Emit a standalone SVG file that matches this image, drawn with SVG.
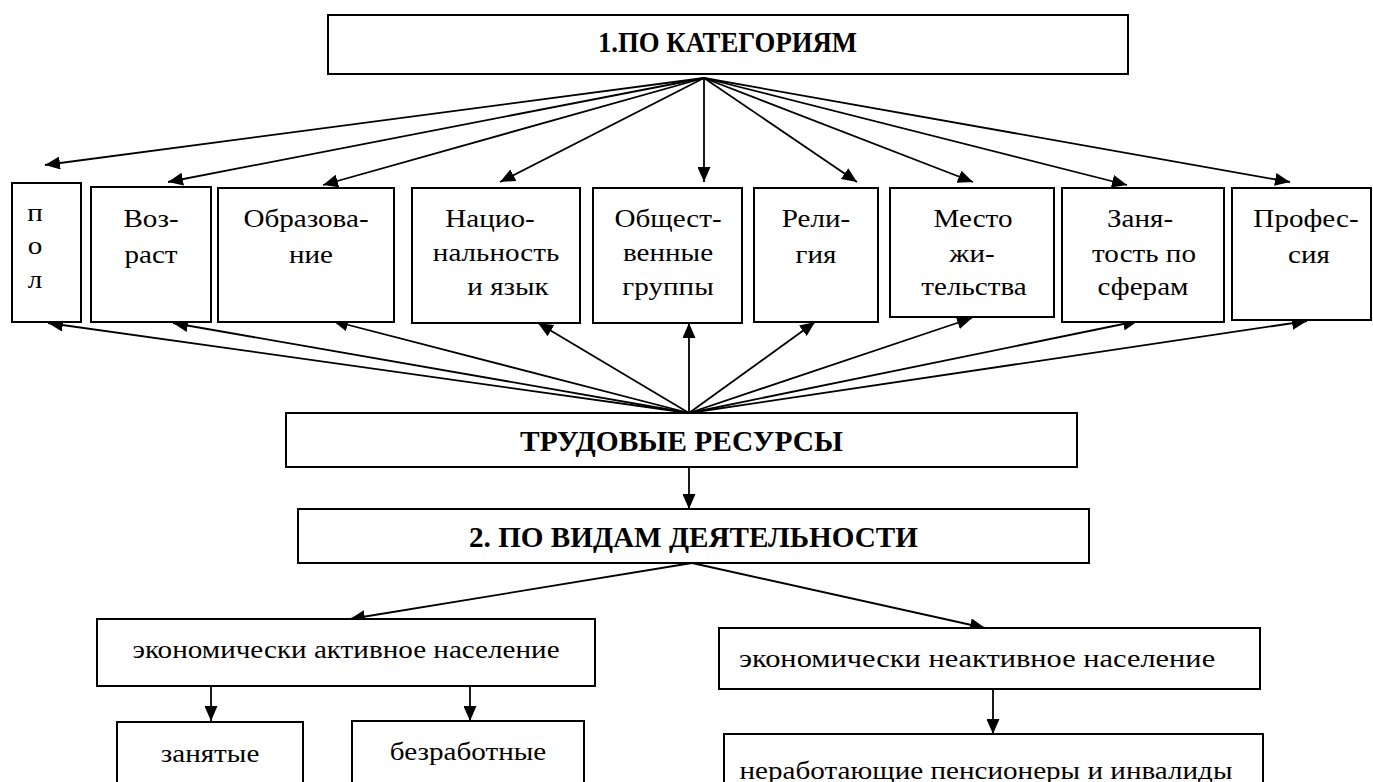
<svg xmlns="http://www.w3.org/2000/svg" width="1373" height="782" viewBox="0 0 1373 782">
<defs>
<marker id="ah" markerUnits="userSpaceOnUse" markerWidth="15" markerHeight="13" refX="15" refY="6.5" orient="auto">
<path d="M0,0 L15,6.5 L0,13 z" fill="#000"/>
</marker>
<style>
.box{fill:#fff;stroke:#000;stroke-width:2}
.t{font-family:"Liberation Serif","Times New Roman","DejaVu Serif",serif;font-size:26px;fill:#000;text-anchor:middle}
.b{font-family:"Liberation Serif","Times New Roman","DejaVu Serif",serif;font-size:29px;font-weight:bold;fill:#000;text-anchor:middle}
.c line{stroke:#000;stroke-width:1.8;marker-end:url(#ah)}
</style>
</defs>
<rect width="1373" height="782" fill="#fff"/>

<g id="connectors" class="c">
<line x1="704" y1="78" x2="45" y2="165"/>
<line x1="704" y1="78" x2="168" y2="182"/>
<line x1="704" y1="78" x2="323" y2="185"/>
<line x1="704" y1="78" x2="500" y2="182"/>
<line x1="704" y1="78" x2="704" y2="182"/>
<line x1="704" y1="78" x2="857" y2="182"/>
<line x1="704" y1="78" x2="973" y2="182"/>
<line x1="704" y1="78" x2="1127" y2="185"/>
<line x1="704" y1="78" x2="1290" y2="182"/>
<line x1="689" y1="413" x2="48" y2="323"/>
<line x1="689" y1="413" x2="173" y2="323"/>
<line x1="689" y1="413" x2="333" y2="321"/>
<line x1="689" y1="413" x2="538" y2="323"/>
<line x1="689" y1="413" x2="689" y2="323"/>
<line x1="689" y1="413" x2="815" y2="322"/>
<line x1="689" y1="413" x2="972" y2="318"/>
<line x1="689" y1="413" x2="1138" y2="321"/>
<line x1="689" y1="413" x2="1307" y2="321"/>
<line x1="689" y1="467" x2="689" y2="509"/>
<line x1="692" y1="563" x2="350" y2="619"/>
<line x1="692" y1="563" x2="985" y2="628"/>
<line x1="211" y1="687" x2="211" y2="721"/>
<line x1="470" y1="687" x2="470" y2="721"/>
<line x1="993" y1="690" x2="993" y2="734"/>
</g>

<g id="n-categories">
<rect class="box" x="328" y="15" width="800" height="59"/>
<text class="b" x="727.5" y="52" font-size="28" textLength="259" lengthAdjust="spacingAndGlyphs">1.ПО КАТЕГОРИЯМ</text>
</g>

<g id="n-pol">
<rect class="box" x="12" y="183" width="69" height="139"/>
<text class="t" transform="translate(35,221) scale(1.12,1)">п</text>
<text class="t" transform="translate(35,254) scale(1.12,1)">о</text>
<text class="t" transform="translate(35,288) scale(1.12,1)">л</text>
</g>

<g id="n-vozrast">
<rect class="box" x="91" y="187" width="120" height="135"/>
<text class="t" transform="translate(151,227) scale(1.12,1)">Воз-</text>
<text class="t" transform="translate(151,263) scale(1.12,1)">раст</text>
</g>

<g id="n-obrazovanie">
<rect class="box" x="218" y="188" width="176" height="134"/>
<text class="t" transform="translate(306,227) scale(1.12,1)">Образова-</text>
<text class="t" transform="translate(311,263) scale(1.12,1)">ние</text>
</g>

<g id="n-nacionalnost">
<rect class="box" x="412" y="188" width="168" height="135"/>
<text class="t" transform="translate(490,227) scale(1.12,1)">Нацио-</text>
<text class="t" transform="translate(496,261) scale(1.12,1)">нальность</text>
<text class="t" transform="translate(508,295) scale(1.12,1)">и язык</text>
</g>

<g id="n-obshchestvennye">
<rect class="box" x="593" y="188" width="149" height="135"/>
<text class="t" transform="translate(668,227) scale(1.12,1)">Общест-</text>
<text class="t" transform="translate(668,261) scale(1.12,1)">венные</text>
<text class="t" transform="translate(668,295) scale(1.12,1)">группы</text>
</g>

<g id="n-religiya">
<rect class="box" x="754" y="188" width="124" height="134"/>
<text class="t" transform="translate(816,227) scale(1.12,1)">Рели-</text>
<text class="t" transform="translate(816,263) scale(1.12,1)">гия</text>
</g>

<g id="n-mesto">
<rect class="box" x="890" y="188" width="164" height="129"/>
<text class="t" transform="translate(973,227) scale(1.12,1)">Место</text>
<text class="t" transform="translate(972,262) scale(1.12,1)">жи-</text>
<text class="t" transform="translate(974,295) scale(1.12,1)">тельства</text>
</g>

<g id="n-zanyatost">
<rect class="box" x="1062" y="188" width="162" height="134"/>
<text class="t" transform="translate(1140,227) scale(1.12,1)">Заня-</text>
<text class="t" transform="translate(1144,262) scale(1.12,1)">тость по</text>
<text class="t" transform="translate(1143,295) scale(1.12,1)">сферам</text>
</g>

<g id="n-professiya">
<rect class="box" x="1232" y="188" width="139" height="132"/>
<text class="t" transform="translate(1306,227) scale(1.12,1)">Профес-</text>
<text class="t" transform="translate(1309,263) scale(1.12,1)">сия</text>
</g>

<g id="n-trudovye">
<rect class="box" x="286" y="413" width="791" height="54"/>
<text class="b" x="681.5" y="451" textLength="323" lengthAdjust="spacingAndGlyphs">ТРУДОВЫЕ РЕСУРСЫ</text>
</g>

<g id="n-vidy">
<rect class="box" x="298" y="509" width="791" height="54"/>
<text class="b" x="693.5" y="547" textLength="449" lengthAdjust="spacingAndGlyphs">2. ПО ВИДАМ ДЕЯТЕЛЬНОСТИ</text>
</g>

<g id="n-aktivnoe">
<rect class="box" x="97" y="619" width="498" height="67"/>
<text class="t" transform="translate(346,658) scale(1.12,1)">экономически активное население</text>
</g>

<g id="n-neaktivnoe">
<rect class="box" x="719" y="628" width="541" height="61"/>
<text class="t" transform="translate(977,667) scale(1.17,1)">экономически неактивное население</text>
</g>

<g id="n-zanyatye">
<rect class="box" x="117" y="722" width="186" height="70"/>
<text class="t" transform="translate(210,762) scale(1.12,1)">занятые</text>
</g>

<g id="n-bezrabotnye">
<rect class="box" x="352" y="721" width="232" height="70"/>
<text class="t" transform="translate(468,760) scale(1.12,1)">безработные</text>
</g>

<g id="n-nerabotayushchie">
<rect class="box" x="724" y="734" width="539" height="60"/>
<text class="t" transform="translate(986,779) scale(1.12,1)">неработающие пенсионеры и инвалиды</text>
</g>
</svg>
